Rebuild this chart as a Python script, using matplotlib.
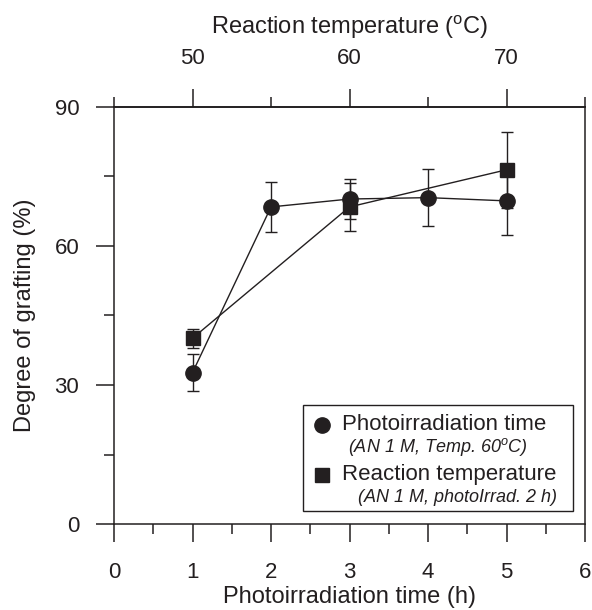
import numpy as np
import matplotlib.pyplot as plt
from matplotlib.patches import Rectangle

plt.rcParams['font.family'] = ['Liberation Sans', 'DejaVu Sans']
plt.rcParams['mathtext.fontset'] = 'custom'
plt.rcParams['mathtext.rm'] = 'Liberation Sans'
plt.rcParams['mathtext.it'] = 'Liberation Sans:italic'

INK = '#231f20'

# photoirradiation time series (AN 1 M, 60 C)
time_h = [1, 2, 3, 4, 5]
time_dg = [32.7, 68.4, 70.1, 70.4, 69.7]
time_err = [4.0, 5.3, 4.3, 6.1, 7.4]

# reaction temperature series (AN 1 M, 2 h photoirradiation)
temp_c = [50, 60, 70]
temp_dg = [40.1, 68.4, 76.4]
temp_err = [2.0, 5.2, 8.2]


def temp_to_x(t):
    return (np.asarray(t, dtype=float) - 45.0) / 5.0


def x_to_temp(x):
    return 45.0 + 5.0 * np.asarray(x, dtype=float)


fig = plt.figure(figsize=(5.92, 6.10), dpi=100)
ax = fig.add_axes([0.1926, 0.1405, 0.7956, 0.6846])

ax.errorbar(time_h, time_dg, yerr=time_err, color=INK, lw=1.0, marker='o',
            ms=11, mec=INK, mfc=INK, ecolor=INK, elinewidth=1.0,
            capsize=4.3, capthick=1.0, zorder=3)
ax.errorbar(temp_to_x(temp_c), temp_dg, yerr=temp_err, color=INK, lw=1.0,
            marker='s', ms=10, mec=INK, mfc=INK, ecolor=INK, elinewidth=1.0,
            capsize=4.3, capthick=1.0, zorder=3)

ax.set_xlim(0, 6)
ax.set_ylim(0, 90)
ax.set_xticks(range(0, 7))
ax.set_xticks(np.arange(0.5, 6, 1.0), minor=True)
ax.set_yticks([0, 30, 60, 90])
ax.set_yticks([15, 45, 75], minor=True)

for s in ax.spines.values():
    s.set_linewidth(1.1)
    s.set_color(INK)

ax.tick_params(axis='both', which='major', direction='out', length=13,
               width=1.1, color=INK, labelsize=16, pad=14, labelcolor=INK)
ax.tick_params(axis='both', which='minor', direction='out', length=7,
               width=1.1, color=INK)
ax.tick_params(axis='y', pad=12)

ax.set_xlabel('Photoirradiation time (h)', fontsize=17, color=INK, labelpad=2)
ax.set_ylabel('Degree of grafting (%)', fontsize=17, color=INK, labelpad=13)

top = ax.secondary_xaxis('top', functions=(x_to_temp, temp_to_x))
top.set_xticks([50, 60, 70])
top.set_xticks([45, 55, 65, 75], minor=True)
top.spines['top'].set_linewidth(1.1)
top.tick_params(axis='x', which='major', direction='out', length=13,
                width=1.1, color=INK, labelsize=16, pad=14, labelcolor=INK)
top.tick_params(axis='x', which='minor', direction='out', length=7,
                width=1.1, color=INK)
top.set_xlabel(r'Reaction temperature ($^{\rm o}$C)', fontsize=17,
               color=INK, labelpad=10)

# legend box drawn by hand so the condition lines can sit under each entry
ax.add_patch(Rectangle((0.402, 0.033), 0.5725, 0.253, transform=ax.transAxes,
                       fill=False, ec=INK, lw=1.0, zorder=4))
ax.plot([0.441], [0.238], 'o', ms=11, color=INK, transform=ax.transAxes,
        clip_on=False, zorder=5)
ax.text(0.4834, 0.240, 'Photoirradiation time', transform=ax.transAxes,
        fontsize=16, color=INK, va='center', ha='left')
ax.text(0.4968, 0.186, r'(AN 1 M, Temp. 60$^{\it o}$C)', transform=ax.transAxes,
        fontsize=13, style='italic', color=INK, va='center', ha='left')
ax.plot([0.441], [0.118], 's', ms=10, color=INK, transform=ax.transAxes,
        clip_on=False, zorder=5)
ax.text(0.4834, 0.120, 'Reaction temperature', transform=ax.transAxes,
        fontsize=16, color=INK, va='center', ha='left')
ax.text(0.518, 0.064, '(AN 1 M, photoIrrad. 2 h)', transform=ax.transAxes,
        fontsize=13, style='italic', color=INK, va='center', ha='left')

fig.savefig('out.png', dpi=100)
